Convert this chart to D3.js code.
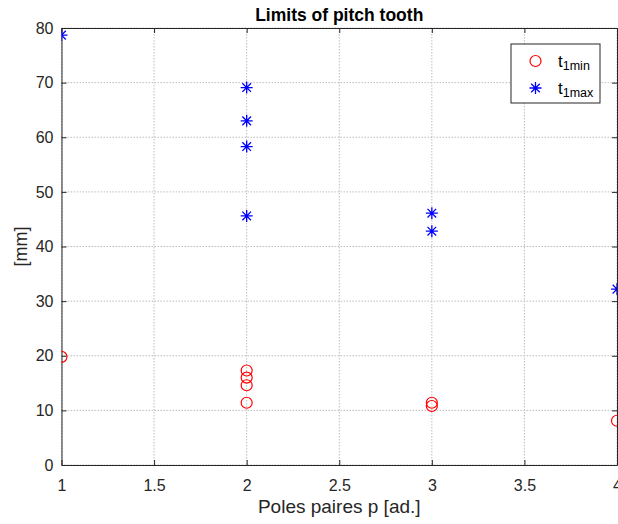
<!DOCTYPE html>
<html><head><meta charset="utf-8">
<script src="https://cdn.jsdelivr.net/npm/d3@7"></script>
<style>body{margin:0;background:#fff}svg{display:block}text{font-family:"Liberation Sans",Arial,sans-serif}</style>
</head><body>
<svg id="c" width="618" height="524"></svg>
<script>
const tMinX = [1, 2, 2, 2, 2, 3, 3, 4];
const tMinY = [19.8, 17.3, 16.0, 14.6, 11.4, 11.4, 10.8, 8.1];
const tMaxX = [1, 2, 2, 2, 2, 3, 3, 4];
const tMaxY = [78.7, 69.1, 63.0, 58.3, 45.6, 46.1, 42.8, 32.2];
const xTicks = [1, 1.5, 2, 2.5, 3, 3.5, 4];
const yTicks = [0, 10, 20, 30, 40, 50, 60, 70, 80];
const title = "Limits of pitch tooth";
const xLabel = "Poles paires p [ad.]";
const yLabel = "[mm]";

const svg = d3.select("#c");
const L = 61.5, R = 617, T = 28, B = 465;
const x = d3.scaleLinear().domain([1, 4]).range([L, R]);
const y = d3.scaleLinear().domain([0, 80]).range([B, T]);

const clipId = "clp";
svg.append("clipPath").attr("id", clipId).append("rect")
  .attr("x", L).attr("y", T).attr("width", R - L).attr("height", B - T);

// grid
const g = svg.append("g");
g.selectAll(".gx").data(xTicks).join("line")
  .attr("x1", d => x(d)).attr("x2", d => x(d)).attr("y1", T).attr("y2", B)
  .attr("stroke", "#bdbdbd").attr("stroke-width", 1).attr("stroke-dasharray", "1.5,1.5");
g.selectAll(".gy").data(yTicks).join("line")
  .attr("y1", d => y(d)).attr("y2", d => y(d)).attr("x1", L).attr("x2", R)
  .attr("stroke", "#bdbdbd").attr("stroke-width", 1).attr("stroke-dasharray", "1.5,1.5");

// axes
const fmt = d => d3.format("~g")(d);
const ax = svg.append("g").attr("transform", `translate(0,${B})`)
  .call(d3.axisBottom(x).tickValues(xTicks).tickFormat(fmt).tickSizeInner(-5).tickSizeOuter(0).tickPadding(15));
const ax2 = svg.append("g").attr("transform", `translate(0,${T})`)
  .call(d3.axisTop(x).tickValues(xTicks).tickFormat("").tickSizeInner(-5).tickSizeOuter(0));
const ay = svg.append("g").attr("transform", `translate(${L},0)`)
  .call(d3.axisLeft(y).tickValues(yTicks).tickFormat(fmt).tickSizeInner(-5).tickSizeOuter(0).tickPadding(8));
const ay2 = svg.append("g").attr("transform", `translate(${R},0)`)
  .call(d3.axisRight(y).tickValues(yTicks).tickFormat("").tickSizeInner(-5).tickSizeOuter(0));
[ax, ax2, ay, ay2].forEach(a => {
  a.select(".domain").attr("stroke", "#262626").attr("stroke-width", 1);
  a.selectAll(".tick line").attr("stroke", "#262626");
  a.selectAll(".tick text").attr("fill", "#262626").style("font-size", "16px");
});

// markers
const pts = svg.append("g").attr("clip-path", `url(#${clipId})`);
pts.selectAll("circle").data(tMinX.map((d, i) => [d, tMinY[i]])).join("circle")
  .attr("cx", d => x(d[0])).attr("cy", d => y(d[1])).attr("r", 5.5)
  .attr("fill", "none").attr("stroke", "#ff0000").attr("stroke-width", 1.2);
function star(sel, cx, cy, s) {
  const p = `M${cx - s},${cy}H${cx + s}M${cx},${cy - s}V${cy + s}` +
    `M${cx - s * 0.72},${cy - s * 0.72}L${cx + s * 0.72},${cy + s * 0.72}` +
    `M${cx - s * 0.72},${cy + s * 0.72}L${cx + s * 0.72},${cy - s * 0.72}`;
  sel.append("path").attr("d", p).attr("stroke", "#0000ff").attr("stroke-width", 1.3).attr("fill", "none");
}
tMaxX.forEach((d, i) => star(pts, x(d), y(tMaxY[i]), 6));

// title & labels
svg.append("text").attr("x", (L + R) / 2).attr("y", 20.5).attr("text-anchor", "middle")
  .style("font-size", "17.5px").style("font-weight", "bold").attr("fill", "#000").text(title);
svg.append("text").attr("x", (L + R) / 2).attr("y", 513).attr("text-anchor", "middle")
  .style("font-size", "19px").attr("fill", "#262626").text(xLabel);
svg.append("text").attr("transform", `translate(27,${(T + B) / 2}) rotate(-90)`).attr("text-anchor", "middle")
  .style("font-size", "18px").attr("fill", "#262626").text(yLabel);

// legend
const lg = svg.append("g");
lg.append("rect").attr("x", 511).attr("y", 44).attr("width", 89).attr("height", 59)
  .attr("fill", "#fff").attr("stroke", "#262626").attr("stroke-width", 1);
lg.append("circle").attr("cx", 535.5).attr("cy", 61).attr("r", 5.5)
  .attr("fill", "none").attr("stroke", "#ff0000").attr("stroke-width", 1.2);
star(lg, 535.5, 88, 6);
const legTxt = [["1min", 61], ["1max", 88]];
legTxt.forEach(([sub, cy]) => {
  const t = lg.append("text").attr("x", 558).attr("y", cy + 5.5).attr("fill", "#000").style("font-size", "17px");
  t.append("tspan").text("t");
  t.append("tspan").attr("dy", 3.5).style("font-size", "12.5px").text(sub);
});
</script>
</body></html>
